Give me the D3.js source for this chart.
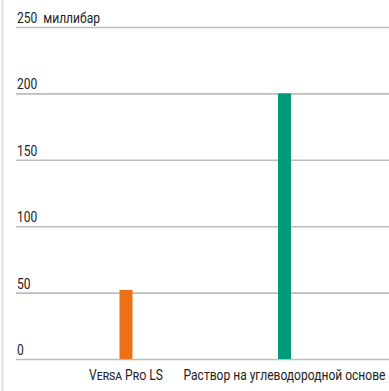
<!DOCTYPE html>
<html>
<head>
<meta charset="utf-8">
<script src="https://cdn.jsdelivr.net/npm/d3@7"></script>
<style>
  body { margin: 0; background: #fff; }
  text { font-family: "Roboto", sans-serif; font-size: 14px; fill: #222; }
</style>
</head>
<body>
<div id="main"></div>
<script>
'use strict';

var categories = ['Versa Pro LS', 'Раствор на углеводородной основе'];
var values = [52, 200];
var barColors = ['#ec7014', '#009b7d'];
var ticks = [0, 50, 100, 150, 200, 250];
var unitLabel = 'миллибар';

var width = 389, height = 391;
var svg = d3.select('#main').append('svg').attr('width', width).attr('height', height);

// left gray strip
svg.append('rect').attr('x', 1).attr('y', 0).attr('width', 3).attr('height', height).attr('fill', '#e6e6e6');

var y = d3.scaleLinear().domain([0, 250]).range([359, 27]);
var x = d3.scalePoint().domain(categories).range([126, 284.5]);

// grid lines
var grid = svg.append('g');
grid.selectAll('line').data(ticks).enter().append('line')
  .attr('x1', 16).attr('x2', width)
  .attr('y1', function(d){ return y(d) + 0.5; })
  .attr('y2', function(d){ return y(d) + 0.5; })
  .attr('stroke', '#bdbdbd').attr('stroke-width', 1.6);

grid.selectAll('text').data(ticks).enter().append('text')
  .attr('x', 17)
  .attr('y', function(d){ return y(d) - 4; })
  .text(function(d){ return d === 250 ? d + '  ' + unitLabel : d; })
  .attr('xml:space', 'preserve');

// bars
var barW = 13;
svg.append('g').selectAll('rect').data(values).enter().append('rect')
  .attr('x', function(d, i){ return x(categories[i]) - barW / 2; })
  .attr('y', function(d){ return y(d); })
  .attr('width', barW)
  .attr('height', function(d){ return y(0) - y(d); })
  .attr('fill', function(d, i){ return barColors[i]; });

// category labels
svg.append('g').selectAll('text').data(categories).enter().append('text')
  .attr('x', function(d){ return x(d); })
  .attr('y', 380)
  .attr('text-anchor', 'middle')
  .style('font-variant', function(d, i){ return i === 0 ? 'small-caps' : 'normal'; })
  .text(function(d){ return d; });

// condensed look: squeeze every text horizontally
var k = 0.86;
svg.selectAll('text').each(function(){
  var len = this.getComputedTextLength();
  d3.select(this).attr('textLength', len * k).attr('lengthAdjust', 'spacingAndGlyphs');
});
</script>
</body>
</html>
